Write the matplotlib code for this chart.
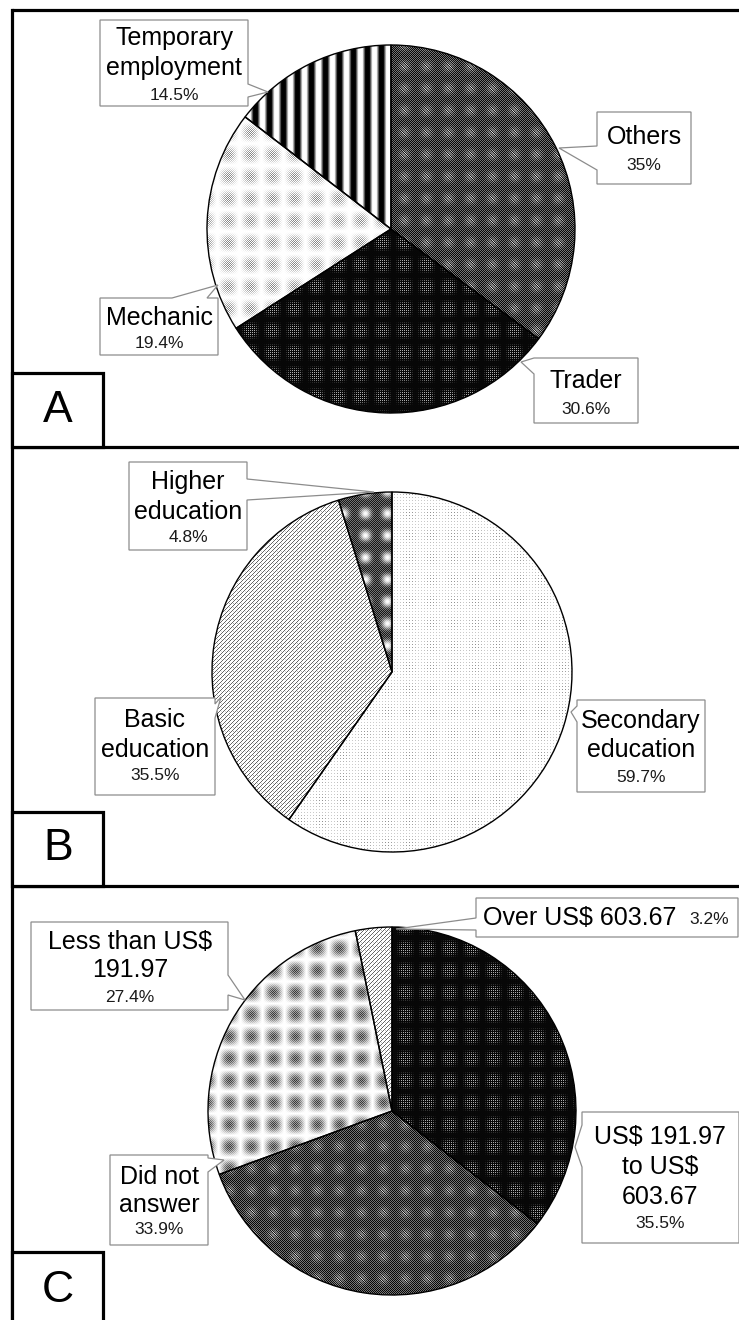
import numpy as np
import matplotlib
matplotlib.use("Agg")
import matplotlib.pyplot as plt
from matplotlib.patches import Polygon, Rectangle

plt.rcParams['font.family'] = ['Liberation Sans', 'DejaVu Sans']

# ---------------- data ----------------
jobs_labels = ['Others', 'Trader', 'Mechanic', 'Temporary\nemployment']
jobs_pct = [35.0, 30.6, 19.4, 14.5]
jobs_tex = ['mid', 'dark', 'lightblob', 'stripes']

edu_labels = ['Secondary\neducation', 'Basic\neducation', 'Higher\neducation']
edu_pct = [59.7, 35.5, 4.8]
edu_tex = ['fine', 'hatch', 'darkblob']

income_labels = ['US$ 191.97\nto US$\n603.67', 'Did not\nanswer',
                 'Less than US$\n191.97', 'Over US$ 603.67']
income_pct = [35.5, 33.9, 27.4, 3.2]
income_tex = ['dark', 'mid', 'greyblob', 'hatch']

panel_letters = ['A', 'B', 'C']

W, H = 739, 1320
fig = plt.figure(figsize=(W / 100, H / 100), dpi=100)
ax = fig.add_axes([0, 0, 1, 1])


def Y(y):  # pixel (top-down) -> data
    return H - y


def texture(kind, w, h):
    yy, xx = np.mgrid[0:h, 0:w]
    chk = ((xx + yy) % 2).astype(float)
    P = 22.0
    cx = np.cos(2 * np.pi * xx / P)
    cy = np.cos(2 * np.pi * yy / P)
    blob = (0.5 + 0.5 * cx) * (0.5 + 0.5 * cy)
    dots = (((xx % 2) == 0) & ((yy % 2) == 0)).astype(float)
    if kind == 'mid':
        diag = (((xx - yy) % 3) == 0).astype(float)
        base = np.where(chk > 0, 0.12, 0.55)
        v = base + 0.35 * blob ** 2 * diag - 0.1 * (1 - blob)
    elif kind == 'dark':
        sq = np.clip((0.5 + 0.5 * cx) * (0.5 + 0.5 * cy) * 1.6, 0, 1)
        v = 0.03 + 0.65 * sq * dots
    elif kind == 'lightblob':
        v = 1 - 0.5 * blob ** 0.8 * chk
    elif kind == 'greyblob':
        v = 1 - 0.8 * blob ** 0.7 * np.where(chk > 0, 1.0, 0.5)
    elif kind == 'stripes':
        v = np.clip(0.5 + 0.75 * np.cos(2 * np.pi * xx / 14.0), 0, 1)
    elif kind == 'darkblob':
        b = blob ** 1.5
        v = np.where(chk > 0, 0.08, 0.45) * (1 - b) + b
    elif kind == 'fine':
        d3 = (((xx % 3) == 0) & ((yy % 3) == 0)).astype(float)
        v = 1 - 0.45 * d3 * (0.45 + 0.55 * blob)
    elif kind == 'hatch':
        lines = (((xx + yy) % 4) == 0).astype(float)
        d = (((xx % 4) == 2) & ((yy % 4) == 0)).astype(float)
        v = 1 - 0.6 * lines - 0.35 * d * (0.4 + 0.6 * blob)
    else:
        v = np.ones((h, w))
    return np.clip(v, 0, 1)


def draw_pie(values, textures, cxp, cyp, r):
    wedges, _ = ax.pie(values, startangle=90, counterclock=False,
                       center=(cxp, Y(cyp)), radius=r, normalize=True,
                       wedgeprops=dict(facecolor='none', edgecolor='black',
                                       linewidth=1.0, zorder=3))
    n = int(2 * r) + 2
    for wdg, kind in zip(wedges, textures):
        img = ax.imshow(texture(kind, n, n), cmap='gray', vmin=0, vmax=1,
                        interpolation='nearest', origin='upper',
                        extent=(cxp - n / 2, cxp + n / 2, Y(cyp) - n / 2, Y(cyp) + n / 2),
                        zorder=2)
        img.set_clip_path(wdg)
    return wedges


draw_pie(jobs_pct, jobs_tex, 391, 229, 184)
draw_pie(edu_pct, edu_tex, 392, 672, 180)
draw_pie(income_pct, income_tex, 392, 1111, 184)


def callout(x0, y0, x1, y1, side, a, b, tip):
    pts = [(x0, y0)]
    if side == 'top':
        pts += [(a, y0), tip, (b, y0)]
    pts.append((x1, y0))
    if side == 'right':
        pts += [(x1, a), tip, (x1, b)]
    pts.append((x1, y1))
    pts.append((x0, y1))
    if side == 'left':
        pts += [(x0, b), tip, (x0, a)]
    poly = Polygon([(px, Y(py)) for px, py in pts], closed=True,
                   facecolor='white', edgecolor='#8c8c8c', linewidth=0.9, zorder=5)
    ax.add_patch(poly)


def label(x, ys, name, pct, pct_y, name_size=18, pct_size=12.5):
    for line, yy in zip(name.split('\n'), ys):
        ax.text(x, Y(yy), line, ha='center', va='center', fontsize=name_size,
                color='black', zorder=6)
    ax.text(x, Y(pct_y), pct, ha='center', va='center',
            fontsize=pct_size, color='#1a1a1a', zorder=6)


def pct_str(v):
    return ('%g' % v) + '%'


# ---- Panel A labels
callout(100, 20, 248, 106, 'right', 84, 97, (268, 92))
label(174, [38, 68], jobs_labels[3], pct_str(jobs_pct[3]), 96)
callout(597, 112, 691, 184, 'left', 146, 170, (559, 148))
label(644, [137], jobs_labels[0], pct_str(jobs_pct[0]), 165)
callout(534, 358, 638, 423, 'left', 358, 374, (521, 362))
label(586, [381], jobs_labels[1], pct_str(jobs_pct[1]), 410)
callout(100, 298, 218, 355, 'top', 172, 207, (218, 285))
label(159, [318], jobs_labels[2], pct_str(jobs_pct[2]), 343)

# ---- Panel B labels
callout(129, 462, 247, 550, 'right', 479, 500, (374, 492))
label(188, [482, 512], edu_labels[2], pct_str(edu_pct[2]), 538)
callout(95, 698, 215, 795, 'right', 704, 718, (221, 697))
label(155, [720, 750], edu_labels[1], pct_str(edu_pct[1]), 776)
callout(577, 700, 705, 792, 'left', 706, 722, (571, 712))
label(641, [721, 750], edu_labels[0], pct_str(edu_pct[0]), 778)

# ---- Panel C labels
callout(476, 898, 738, 937, 'left', 918, 930, (396, 929))
ax.text(483, Y(918), income_labels[3], ha='left', va='center', fontsize=18, zorder=6)
ax.text(689, Y(920), pct_str(income_pct[3]), ha='left', va='center', fontsize=12.5,
        color='#1a1a1a', zorder=6)
callout(31, 922, 228, 1010, 'right', 975, 995, (245, 1000))
label(130, [942, 970], income_labels[2], pct_str(income_pct[2]), 997)
callout(582, 1112, 739, 1243, 'left', 1125, 1167, (575, 1147))
label(660, [1137, 1167, 1197], income_labels[0], pct_str(income_pct[0]), 1223)
callout(110, 1155, 208, 1245, 'right', 1158, 1172, (224, 1160))
label(159, [1177, 1205], income_labels[1], pct_str(income_pct[1]), 1230)

# ---- Panel frames
lw = 2.3
for yy in [10, 447, 886]:
    ax.plot([12, W], [Y(yy), Y(yy)], color='black', lw=lw, zorder=7,
            solid_capstyle='butt')
ax.plot([12, 12], [Y(10), Y(H + 5)], color='black', lw=lw, zorder=7)

letter_boxes = [(373, 447), (812, 886), (1252, 1330)]
letter_y = [410, 849, 1290]
for letter, (t, b), ly in zip(panel_letters, letter_boxes, letter_y):
    ax.add_patch(Rectangle((12, Y(b)), 91, b - t, facecolor='white',
                           edgecolor='black', linewidth=lw, zorder=7))
    ax.text(58, Y(ly), letter, ha='center', va='center', fontsize=32, zorder=8)

ax.set_xlim(0, W)
ax.set_ylim(0, H)
ax.set_aspect('auto')
ax.set_position([0, 0, 1, 1])
ax.axis('off')

fig.savefig('out.png', dpi=100, facecolor='white')
